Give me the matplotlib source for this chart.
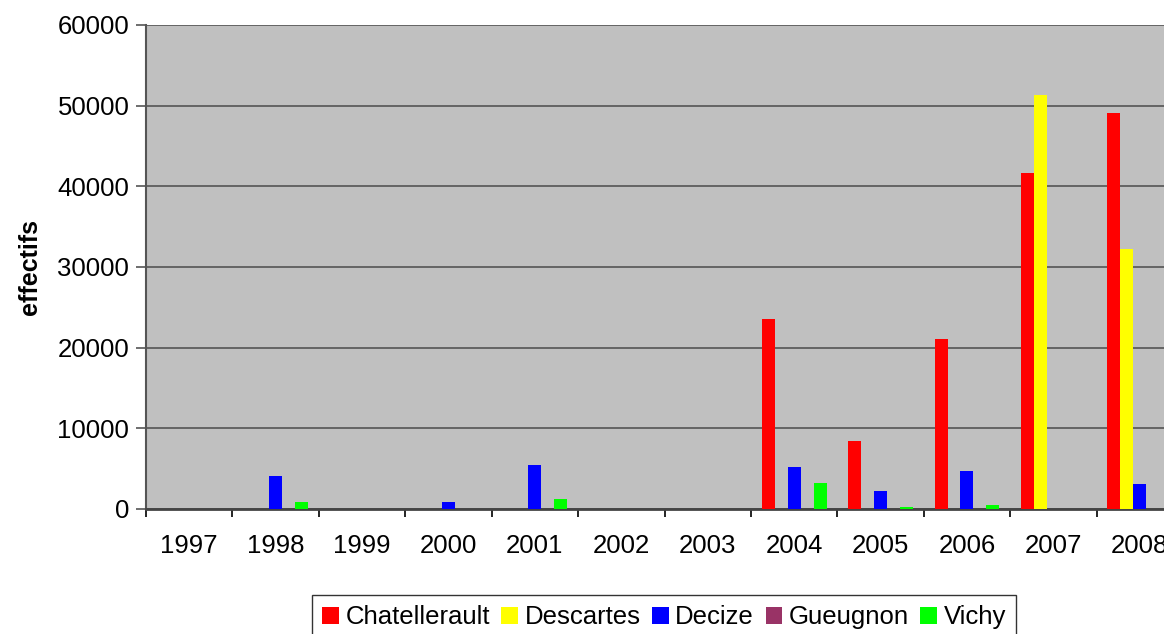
import numpy as np
import matplotlib
matplotlib.use("Agg")
import matplotlib.pyplot as plt

years = ["1997", "1998", "1999", "2000", "2001", "2002", "2003",
         "2004", "2005", "2006", "2007", "2008"]
series_names = ["Chatellerault", "Descartes", "Decize", "Gueugnon", "Vichy"]
series_colors = ["#FF0000", "#FFFF00", "#0000FF", "#993366", "#00FF00"]

chatellerault = [0, 0, 0, 0, 0, 0, 0, 23500, 8400, 21100, 41700, 49100]
descartes = [0, 0, 0, 0, 0, 0, 0, 0, 0, 0, 51300, 32200]
decize = [0, 4100, 0, 850, 5400, 0, 0, 5200, 2200, 4700, 0, 3100]
gueugnon = [0, 0, 0, 0, 0, 0, 0, 0, 0, 0, 0, 0]
vichy = [0, 850, 0, 0, 1200, 0, 0, 3200, 250, 500, 0, 0]

values = [chatellerault, descartes, decize, gueugnon, vichy]

plt.rcParams["font.family"] = ["Liberation Sans", "DejaVu Sans"]

fig = plt.figure(figsize=(11.64, 6.34), dpi=100)
W, H = 1164, 634
x0, x1, y0, y1 = 146, 1183, 25, 509
ax = fig.add_axes([x0 / W, 1 - y1 / H, (x1 - x0) / W, (y1 - y0) / H])
ax.set_facecolor("#C0C0C0")

bw = 0.15
idx = np.arange(len(years))
for i, (name, vals, col) in enumerate(zip(series_names, values, series_colors)):
    left = idx + 0.125 + i * bw
    ax.bar(left, vals, width=bw, align="edge", color=col, label=name, zorder=3)

ax.set_xlim(0, len(years))
ax.set_ylim(0, 60000)
ax.set_yticks(np.arange(0, 60001, 10000))
ax.yaxis.grid(True, color="#555555", linewidth=1.2, zorder=1)
ax.set_axisbelow(True)

# category boundaries get the tick marks, labels sit in the middle
ax.set_xticks(np.arange(0, len(years) + 1))
ax.set_xticklabels([])
ax.set_xticks(idx + 0.5, minor=True)
ax.set_xticklabels(years, minor=True)
ax.tick_params(axis="x", which="major", length=6, width=1.2, color="black", direction="out")
ax.tick_params(axis="x", which="minor", length=0, pad=18, labelsize=18.5)
ax.tick_params(axis="y", length=7, width=1.2, color="#555555", labelsize=18.5, pad=5)

for s in ["top", "right"]:
    ax.spines[s].set_visible(False)
ax.spines["left"].set_color("#555555")
ax.spines["left"].set_linewidth(1.5)
ax.spines["bottom"].set_color("#444444")
ax.spines["bottom"].set_linewidth(2)

ax.set_ylabel("effectifs", fontsize=18, fontweight="bold", labelpad=11)

leg = fig.legend(loc="upper center", bbox_to_anchor=(664 / W, 1 - 595 / H), ncol=5,
                 fontsize=18.5, frameon=True, fancybox=False, edgecolor="black",
                 handlelength=0.65, handleheight=0.65, handletextpad=0.25,
                 columnspacing=0.45, borderpad=0.4, borderaxespad=0)
leg.get_frame().set_linewidth(1)

fig.savefig("out.png", dpi=100)
